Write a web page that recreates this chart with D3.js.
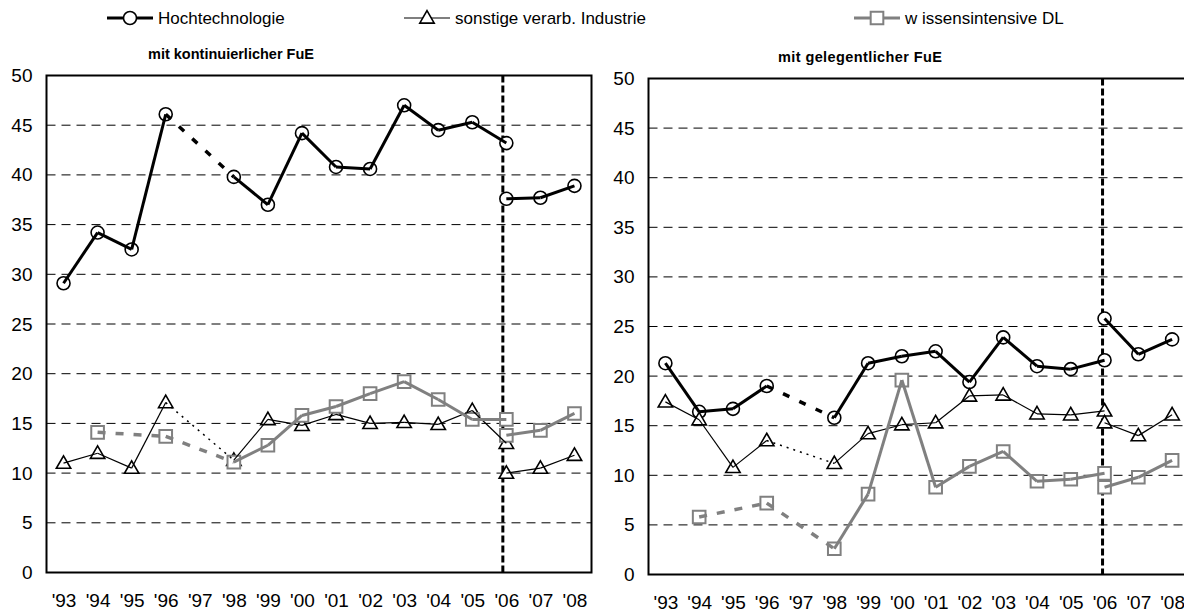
<!DOCTYPE html>
<html><head><meta charset="utf-8">
<script src="https://cdn.jsdelivr.net/npm/d3@7"></script>
<style>body{margin:0;background:#fff}svg{display:block;font-family:"Liberation Sans",Arial,sans-serif}</style>
</head><body><svg id="c" width="1184" height="612"></svg>
<script>
const years = ["'93","'94","'95","'96","'97","'98","'99","'00","'01","'02","'03","'04","'05","'06","'07","'08"];
const newYears = ["'06","'07","'08"];
const yTicks = [0,5,10,15,20,25,30,35,40,45,50];
const seriesNames = ["Hochtechnologie","sonstige verarb. Industrie","w issensintensive DL"];
const panelTitles = ["mit kontinuierlicher FuE","mit gelegentlicher FuE"];

// mit kontinuierlicher FuE ('93..'06 old definition, '06..'08 new)
const kontHoch   = [29.1,34.2,32.5,46.1,null,39.8,37.0,44.2,40.8,40.6,47.0,44.5,45.3,43.2];
const kontHochN  = [37.6,37.7,38.9];
const kontSonst  = [11.0,12.0,10.5,17.1,null,11.3,15.4,14.8,15.9,15.0,15.1,14.9,16.3,13.0];
const kontSonstN = [10.0,10.5,11.8];
const kontWiss   = [null,14.1,null,13.7,null,11.1,12.8,15.8,16.7,18.0,19.2,17.4,15.4,15.4];
const kontWissN  = [13.8,14.3,16.0];
// mit gelegentlicher FuE
const gelHoch    = [21.3,16.4,16.7,19.0,null,15.8,21.3,22.0,22.5,19.4,23.9,21.0,20.7,21.6];
const gelHochN   = [25.8,22.2,23.7];
const gelSonst   = [17.4,15.6,10.8,13.5,null,11.2,14.2,15.1,15.3,18.0,18.1,16.2,16.1,16.5];
const gelSonstN  = [15.3,14.0,16.1];
const gelWiss    = [null,5.8,null,7.2,null,2.6,8.1,19.6,8.8,10.9,12.4,9.4,9.6,10.2];
const gelWissN   = [8.8,9.8,11.5];

const styles = [
  {color:"#000", width:3, gapDash:"7,11", marker:"circle"},
  {color:"#000", width:1.2, gapDash:"2,5", marker:"triangle"},
  {color:"#808080", width:3, gapDash:"8,10", marker:"square"}
];

const panels = [
  {x0:46.5, x1:591.5, y0:75.5, y1:572.5, title:panelTitles[0], tx:148, ls:0, vx:-3.5,
   data:[[kontHoch,kontHochN],[kontSonst,kontSonstN],[kontWiss,kontWissN]]},
  {x0:648.5, x1:1189, y0:78.5, y1:574.5, title:panelTitles[1], tx:778, ls:0.4, vx:-2,
   data:[[gelHoch,gelHochN],[gelSonst,gelSonstN],[gelWiss,gelWissN]]}
];

const svg = d3.select("#c");
const FONT = "Liberation Sans, Arial, sans-serif";

function drawMarker(g, type, x, y, st){
  if(type==="circle"){
    g.append("circle").attr("cx",x).attr("cy",y).attr("r",6.5)
      .attr("fill","#fff").attr("stroke",st.color).attr("stroke-width",1.6);
  } else if(type==="triangle"){
    g.append("path").attr("d",d3.symbol(d3.symbolTriangle,90)())
      .attr("transform",`translate(${x},${y+1})`)
      .attr("fill","#fff").attr("stroke","#000").attr("stroke-width",1.6);
  } else {
    g.append("path").attr("d",d3.symbol(d3.symbolSquare,160)())
      .attr("transform",`translate(${x},${y})`)
      .attr("fill","#fff").attr("stroke",st.color).attr("stroke-width",2);
  }
}

panels.forEach(p=>{
  const x = d3.scalePoint().domain(years).range([p.x0,p.x1]).padding(0.5);
  const y = d3.scaleLinear().domain([0,50]).range([p.y1,p.y0]);
  const g = svg.append("g");

  // gridlines
  g.selectAll("line.grid").data(yTicks.filter(t=>t>0&&t<50)).join("line")
    .attr("x1",p.x0).attr("x2",p.x1).attr("y1",d=>y(d)).attr("y2",d=>y(d))
    .attr("stroke","#000").attr("stroke-width",1).attr("stroke-dasharray","9,6");

  // axes
  const ya = g.append("g").attr("transform",`translate(${p.x0},0)`)
    .call(d3.axisLeft(y).tickValues(yTicks).tickSize(0).tickPadding(14));
  ya.select(".domain").remove();
  ya.selectAll("text").attr("font-size",19).attr("fill","#000").attr("font-family",FONT);
  const xa = g.append("g").attr("transform",`translate(0,${p.y1})`)
    .call(d3.axisBottom(x).tickSize(0).tickPadding(21));
  xa.select(".domain").remove();
  xa.selectAll("text").attr("font-size",19).attr("fill","#000").attr("font-family",FONT);

  // frame
  g.append("rect").attr("x",p.x0).attr("y",p.y0).attr("width",p.x1-p.x0).attr("height",p.y1-p.y0)
    .attr("fill","none").attr("stroke","#000").attr("stroke-width",2);

  // title
  g.append("text").attr("x",p.tx).attr("y",p.y0-17).text(p.title)
    .attr("font-size",14.5).attr("font-weight","bold").attr("letter-spacing",p.ls);

  // vertical break line
  const vx = x("'06")+p.vx;
  g.append("line").attr("x1",vx).attr("x2",vx).attr("y1",p.y0).attr("y2",p.y1)
    .attr("stroke","#000").attr("stroke-width",3).attr("stroke-dasharray","7,3");

  const markers = g.append("g");
  p.data.forEach((pair,si)=>{
    const st = styles[si];
    const oldPts = pair[0].map((v,i)=>({k:years[i],v})).filter(d=>d.v!==null);
    const newPts = pair[1].map((v,i)=>({k:newYears[i],v}));
    [oldPts,newPts].forEach(pts=>{
      for(let i=1;i<pts.length;i++){
        const a=pts[i-1], b=pts[i];
        const gap = years.indexOf(b.k)-years.indexOf(a.k)>1;
        g.append("line").attr("x1",x(a.k)).attr("y1",y(a.v)).attr("x2",x(b.k)).attr("y2",y(b.v))
          .attr("stroke",st.color).attr("stroke-width",gap?(si===1?1.5:3.5):st.width)
          .attr("stroke-dasharray",gap?st.gapDash:null);
      }
      pts.forEach(d=>drawMarker(markers,st.marker,x(d.k),y(d.v),st));
    });
  });
});

// legend
const legendX = [107,404,854];
const lg = svg.append("g");
seriesNames.forEach((n,i)=>{
  const st = styles[i], lx = legendX[i], ly = 18;
  lg.append("line").attr("x1",lx).attr("x2",lx+46).attr("y1",ly).attr("y2",ly)
    .attr("stroke",st.color).attr("stroke-width",st.width);
  drawMarker(lg,st.marker,lx+23,ly,st);
  lg.append("text").attr("x",lx+51).attr("y",ly).attr("dy","0.35em").text(n).attr("font-size",17);
});
</script></body></html>
